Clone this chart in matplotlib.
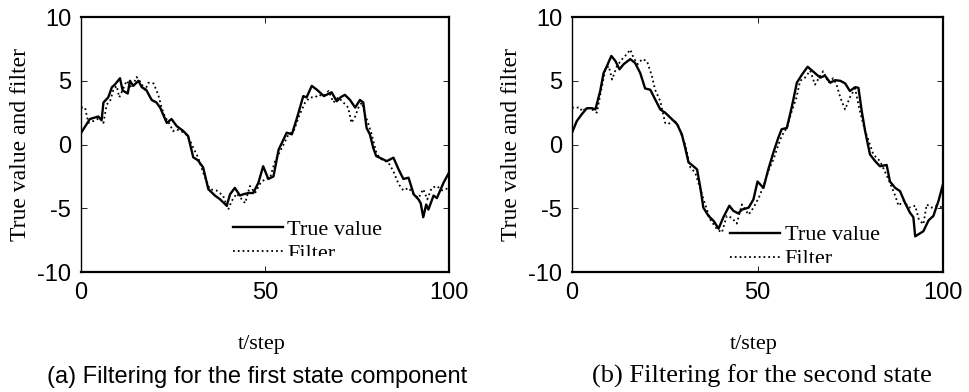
import matplotlib
matplotlib.use("Agg")
import matplotlib.pyplot as plt
from matplotlib.transforms import Bbox, TransformedBbox

plt.rcParams['axes.unicode_minus'] = False

SANS = 'Liberation Sans'
SERIF = 'Liberation Serif'

# (a) first state component
t_true_a = [0, 2.4, 4.7, 5.6, 6.1, 7.4, 8.4, 9.2, 10.6, 11.3, 12.7, 13.3, 14.2, 15.6,
            16.5, 17.7, 19.2, 20.5, 21.5, 23.3, 24.6, 26, 27.8, 29.1, 30.5, 31.8, 33.2,
            34.6, 36.4, 37.8, 39.6, 40.5, 41.8, 43.2, 44.1, 45.5, 46.8, 48.2, 49.5, 50.9,
            52.3, 53.7, 54.6, 55.9, 57.3, 58.6, 60.4, 61.3, 62.7, 64.1, 66, 68.1, 69.5,
            70.5, 71.7, 73.1, 74.5, 75.8, 76.7, 77.6, 78.5, 79.4, 80.2, 83.1, 84.9, 86.3,
            87.6, 89, 90.4, 91.7, 92.3, 93, 93.8, 94.4, 95.8, 96.7, 98.5, 100]
v_true_a = [0.9, 2.0, 2.2, 1.9, 3.3, 3.7, 4.5, 4.7, 5.2, 4.25, 4.0, 5.0, 4.6, 5.0,
            4.5, 4.3, 3.5, 3.3, 2.9, 1.7, 2.0, 1.45, 1.06, 0.67, -1.0, -1.24, -1.8,
            -3.5, -4.0, -4.3, -4.8, -3.9, -3.4, -4.0, -3.9, -3.8, -3.8, -3.0, -1.7, -2.7,
            -2.5, -0.4, 0.14, 0.93, 0.8, 2.0, 3.8, 3.7, 4.6, 4.3, 3.8, 4.1, 3.4,
            3.7, 3.9, 3.5, 2.9, 3.5, 3.3, 1.3, 0.8, -0.25, -0.9, -1.3, -1.03, -1.95,
            -2.7, -2.6, -3.9, -4.3, -4.6, -5.7, -4.7, -5.1, -4.0, -4.2, -3.0, -2.2]
t_filt_a = [0, 1.1, 2, 3.4, 5.2, 6.1, 7, 7.9, 8.8, 9.7, 10.4, 11.5, 12.4, 13.8, 15.1,
            16.3, 17.4, 18.3, 19.7, 21, 21.9, 22.8, 24.1, 25, 25.9, 27.2, 28.6, 29.7,
            30.5, 31.8, 33.2, 35, 36.8, 38.6, 40, 41, 42.3, 43.7, 44.6, 45.9, 47.3, 48.6,
            50, 51.4, 52.7, 54.6, 56.4, 57.8, 59.2, 60.9, 62.2, 63.6, 64.5, 65.9, 67.3,
            68.6, 69.9, 71.3, 72.6, 73.5, 74.5, 75.4, 76.3, 77.2, 78.1, 79, 79.9, 80.4,
            81.7, 83.5, 84.9, 86.3, 87.6, 89, 90.4, 91.7, 93, 94.1, 95.3, 96.7, 98.1, 100]
v_filt_a = [2.9, 2.9, 1.7, 1.85, 2.1, 1.7, 3.15, 3.4, 4.3, 4.6, 3.7, 4.4, 5.0, 4.45, 5.3,
            4.85, 4.25, 4.85, 4.8, 3.9, 2.9, 2.2, 1.6, 1.05, 1.2, 1.05, 0.8, 0.27,
            -0.25, -1.0, -2.2, -3.5, -3.6, -4.0, -5.1, -4.4, -3.85, -4.3, -4.6, -3.25, -3.8, -3.1,
            -2.7, -2.6, -1.3, -0.25, 0.8, 1.05, 2.2, 3.3, 3.7, 3.7, 3.9, 3.8, 4.2,
            3.3, 3.7, 3.3, 2.9, 1.7, 2.2, 2.9, 3.3, 2.35, 1.6, 0.8, -0.25, -0.77,
            -1.16, -1.4, -2.1, -3.1, -3.6, -3.4, -3.9, -4.2, -3.5, -4.3, -3.4, -3.25, -3.6, -3.4]

# (b) second state component
t_true_b = [0, 1.3, 2.7, 4, 5.4, 6.3, 7.6, 8.5, 9.4, 10.6, 11.7, 12.8, 13.9, 15.7, 17,
            18.4, 19.7, 21.1, 22.4, 23.8, 25.1, 26.9, 28.3, 29.6, 30.5, 31.4, 32.3, 33.7,
            34.6, 35.4, 36.8, 38.2, 39.5, 40.8, 42.4, 43.5, 44.8, 45.8, 47.6, 48.9, 50,
            51.6, 52.9, 54.3, 55.6, 56.5, 57.9, 59.2, 60.6, 61.9, 63.5, 65.5, 66.9, 68.2,
            69.6, 70.9, 72.3, 73.6, 74.9, 76.3, 77.2, 78.1, 79, 80.3, 81.7, 83, 84.8,
            85.7, 87.1, 88.4, 89.8, 91.1, 92, 92.5, 94.7, 96.1, 97.4, 98.8, 100]
v_true_b = [0.93, 1.85, 2.4, 2.85, 2.85, 2.75, 4.2, 5.6, 6.15, 6.95, 6.55, 5.9, 6.3, 6.7, 6.4,
            5.6, 4.4, 4.3, 3.55, 2.75, 2.5, 2.0, 1.6, 0.8, -0.25, -1.4, -1.6, -1.95,
            -3.4, -4.95, -5.6, -6.0, -6.6, -5.7, -4.8, -5.2, -5.4, -5.1, -4.95, -4.3, -2.9,
            -3.4, -1.95, -0.6, 0.53, 1.2, 1.3, 2.9, 4.85, 5.45, 6.1, 5.6, 5.25, 5.4,
            4.85, 5.05, 5.0, 4.8, 4.2, 4.5, 4.45, 2.6, 1.06, -0.77, -1.3, -1.7, -1.6,
            -2.9, -3.4, -3.65, -4.6, -5.35, -5.7, -7.2, -6.8, -5.95, -5.6, -4.4, -3.1]
t_filt_b = [0, 2.2, 2.7, 4, 5.4, 6.7, 7.6, 9, 9.9, 10.8, 12.1, 13.5, 14.8, 15.7, 16.6,
            17.7, 18.9, 20.2, 21.5, 22.4, 23.8, 25.1, 26, 27.4, 28.7, 30.1, 30.5, 31.9,
            33.2, 34.6, 35.9, 37.3, 39.1, 40.4, 41.7, 43.1, 44.4, 45.8, 47.6, 48.9, 50.3,
            51.6, 52.9, 54.3, 55.2, 56.5, 57.9, 59.2, 60.4, 61.5, 62.8, 64.2, 65.5, 66.9,
            67.7, 69.1, 70.4, 71.3, 72.3, 73.6, 74.9, 76.3, 77.6, 79, 80, 80.3, 81.2,
            83, 84.3, 85.7, 87.1, 88, 89.4, 90.8, 92.5, 93.5, 94.7, 95.6, 96.9, 98.3, 100]
v_filt_b = [2.9, 2.9, 2.6, 2.9, 2.75, 2.5, 3.9, 5.9, 6.15, 5.1, 6.15, 6.7, 7.1, 7.45, 6.8,
            6.3, 6.7, 6.55, 5.4, 4.3, 3.4, 1.7, 1.6, 2.0, 1.45, 0.27, 0.0, -1.8,
            -2.2, -3.5, -4.7, -5.9, -6.65, -6.9, -5.6, -5.75, -6.2, -4.7, -5.5, -4.95, -4.2,
            -3.25, -2.1, -1.16, -0.38, 0.67, 1.3, 2.6, 3.6, 5.0, 5.25, 5.8, 4.7, 5.4,
            5.75, 4.85, 5.2, 4.7, 3.7, 2.75, 3.7, 4.4, 2.6, 1.06, 0.27, 0.0, -0.77,
            -1.3, -2.1, -3.0, -4.0, -4.8, -4.4, -4.95, -4.8, -5.9, -6.25, -4.7, -4.95, -4.8, -4.95]

x_ticks = [0, 50, 100]
y_ticks = [-10, -5, 0, 5, 10]
legend_labels = ['True value', 'Filter']
captions = ['(a) Filtering for the first state component', '(b) Filtering for the second state']


def draw_panel(ax, t_true, v_true, t_filt, v_filt, leg_anchor, clip_frac):
    ax.plot(t_true, v_true, color='black', lw=1.7, label=legend_labels[0])
    ax.plot(t_filt, v_filt, color='black', lw=1.3, ls=':', label=legend_labels[1])
    ax.set_xlim(0, 100)
    ax.set_ylim(-10, 10)
    ax.set_xticks(x_ticks)
    ax.set_yticks(y_ticks)
    ax.tick_params(direction='in', top=True, right=True, length=4, width=0.6,
                   labelsize=17, pad=7)
    for lab in ax.get_xticklabels() + ax.get_yticklabels():
        lab.set_family(SANS)
    for side in ['top', 'right', 'bottom']:
        ax.spines[side].set_linewidth(1.6)
    ax.spines['left'].set_linewidth(1.0)

    ax.set_xlabel('t/step', family=SERIF, fontsize=16)
    ax.set_ylabel('True value and filter', family=SERIF, fontsize=17)
    ax.xaxis.set_label_coords(0.49, -0.245)
    ax.yaxis.set_label_coords(-0.135, 0.5)

    leg = ax.legend(loc='center left', bbox_to_anchor=leg_anchor, frameon=False,
                    borderpad=0, borderaxespad=0, handlelength=2.25, handletextpad=0.2,
                    labelspacing=0.15, prop={'family': SERIF, 'size': 16})
    # the legend is cut off near the bottom, as in the source figure
    clip = TransformedBbox(Bbox([[0, clip_frac], [1, 1]]), ax.transAxes)
    for art in leg.get_texts() + leg.get_lines():
        art.set_clip_box(clip)
        art.set_clip_on(True)


fig = plt.figure(figsize=(9.7, 3.92), dpi=100)
ax_a = fig.add_axes([0.0835, 0.306, 0.3794, 0.6505])
ax_b = fig.add_axes([0.5897, 0.306, 0.3825, 0.6505])

draw_panel(ax_a, t_true_a, v_true_a, t_filt_a, v_filt_a, (0.413, 0.1196), 0.063)
draw_panel(ax_b, t_true_b, v_true_b, t_filt_b, v_filt_b, (0.426, 0.098), 0.035)

fig.text(0.265, 0.023, captions[0], family=SANS, fontsize=17, ha='center', va='baseline')
fig.text(0.786, 0.023, captions[1], family=SERIF, fontsize=19, ha='center', va='baseline')

fig.savefig('out.png', dpi=100)
